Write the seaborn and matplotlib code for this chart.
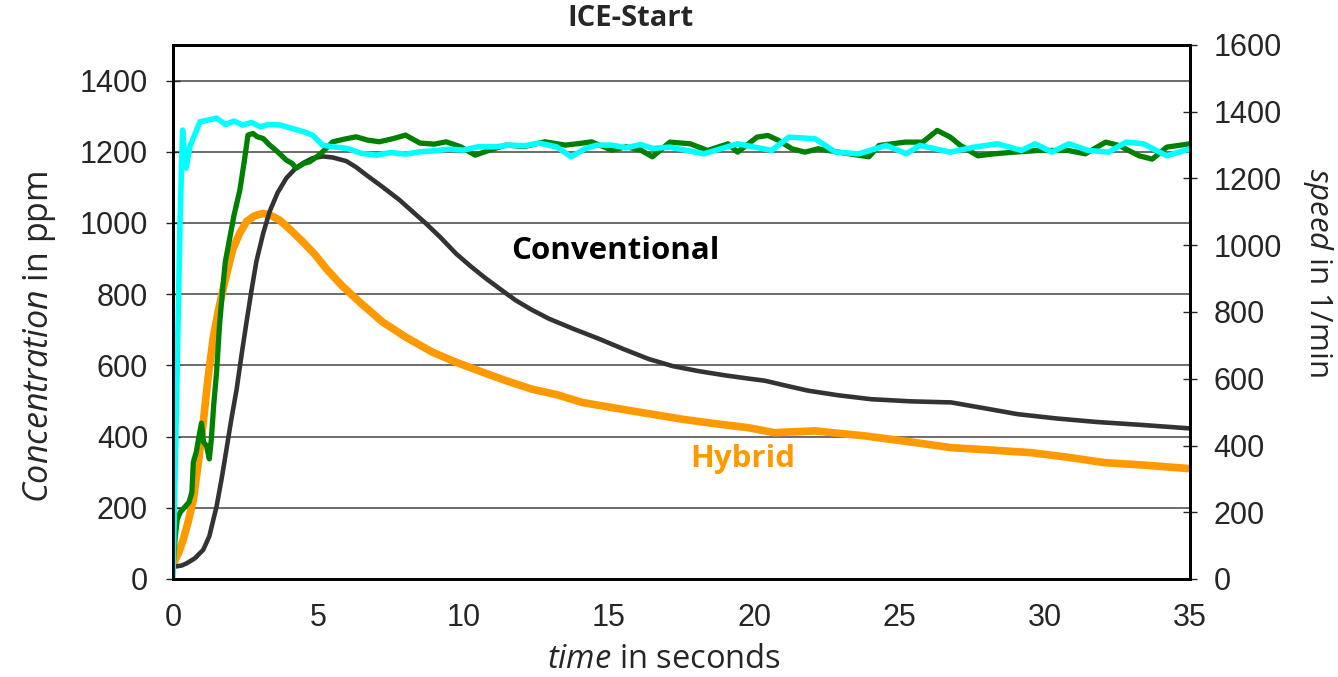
import pandas as pd
import matplotlib
matplotlib.use('Agg')
import matplotlib.pyplot as plt
import seaborn as sns

# Conventional concentration (ppm, left axis)
conv_t = [0.0, 0.3, 0.47, 0.75, 1.04, 1.25, 1.5, 1.67, 1.84, 2.0, 2.19, 2.36, 2.53, 2.7,
          2.87, 3.1, 3.33, 3.6, 3.9, 4.2, 4.47, 4.8, 5.16, 5.5, 5.96, 6.3, 6.65, 7.2, 7.79,
          8.7, 9.2, 9.74, 10.25, 10.77, 11.3, 11.79, 12.35, 12.94, 13.8, 14.65, 15.5, 16.37,
          17.2, 18.08, 19.0, 19.8, 20.37, 21.1, 21.86, 22.9, 24.03, 25.4, 26.78, 27.9, 29.07,
          30.4, 31.8, 33.3, 35.0]
conv_c = [34, 38, 44, 58, 82, 120, 204, 280, 364, 445, 533, 630, 722, 810,
          892, 970, 1033, 1085, 1126, 1152, 1168, 1182, 1187, 1184, 1174, 1157, 1135, 1102, 1065,
          999, 960, 914, 878, 844, 812, 783, 756, 731, 702, 675, 646, 618,
          598, 584, 572, 563, 557, 543, 529, 516, 505, 499, 496, 480, 463,
          451, 441, 433, 423]

# Hybrid concentration (ppm, left axis)
hyb_t = [0.0, 0.2, 0.35, 0.52, 0.7, 0.87, 1.04, 1.2, 1.38, 1.55, 1.73, 1.9, 2.07, 2.3,
         2.53, 2.8, 3.1, 3.4, 3.67, 4.05, 4.47, 4.9, 5.27, 5.8, 6.42, 7.21, 8.0, 8.93, 9.8,
         10.65, 11.5, 12.36, 13.2, 14.08, 15.0, 15.8, 16.7, 17.51, 18.6, 19.8, 20.7, 22.09,
         23.8, 25.3, 26.78, 28.2, 29.52, 30.8, 32.04, 33.4, 35.0]
hyb_c = [40, 75, 110, 160, 223, 325, 439, 560, 675, 750, 816, 875, 929, 972,
         1004, 1020, 1027, 1020, 1008, 980, 947, 910, 872, 825, 778, 722, 680, 637, 607,
         581, 556, 533, 518, 496, 483, 472, 460, 449, 437, 425, 411, 416,
         402, 386, 369, 362, 355, 342, 327, 320, 310]

# speed traces (1/min, right axis)
green_t = [0.0, 0.08, 0.15, 0.25, 0.4, 0.55, 0.65, 0.7, 0.8, 0.9, 0.98, 1.05, 1.15, 1.25,
           1.32, 1.4, 1.5, 1.6, 1.72, 1.8, 1.95, 2.1, 2.3, 2.45, 2.58, 2.75, 2.9, 3.1,
           3.33, 3.6, 3.9, 4.1, 4.24, 4.5, 4.7, 4.95, 5.15, 5.5, 5.9, 6.3, 6.7, 7.1, 7.6,
           8.0, 8.5, 9.0, 9.4, 9.9, 10.4, 10.9, 11.45, 12.1, 12.8, 13.5, 14.0, 14.4, 15.1,
           15.6, 16.1, 16.5, 17.1, 17.8, 18.4, 19.1, 19.43, 20.1, 20.47, 20.8, 21.3, 21.75,
           22.2, 22.9, 23.95, 24.3, 25.2, 25.8, 26.3, 26.75, 27.1, 27.7, 28.26, 28.96,
           29.77, 30.8, 31.4, 32.1, 32.55, 33.25, 33.7, 34.2, 35.0]
green_s = [30, 130, 180, 200, 215, 230, 260, 350, 380, 430, 467, 410, 400, 360,
           420, 520, 620, 760, 880, 950, 1020, 1090, 1165, 1250, 1330, 1335, 1325, 1320,
           1300, 1280, 1255, 1245, 1231, 1245, 1250, 1265, 1280, 1310, 1318, 1325, 1315, 1310, 1320,
           1330, 1306, 1303, 1310, 1295, 1270, 1285, 1300, 1296, 1310, 1300, 1305, 1310, 1285,
           1295, 1285, 1265, 1309, 1304, 1284, 1304, 1279, 1324, 1329, 1316, 1289, 1279,
           1289, 1279, 1265, 1299, 1309, 1309, 1344, 1324, 1299, 1268, 1274, 1279,
           1284, 1284, 1274, 1309, 1299, 1268, 1258, 1294, 1304]

cyan_t = [0.0, 0.13, 0.24, 0.33, 0.38, 0.45, 0.58, 0.93, 1.2, 1.5, 1.8, 2.1, 2.4, 2.7,
          3.0, 3.3, 3.7, 4.1, 4.5, 4.8, 5.15, 5.5, 6.0, 6.5, 7.0, 7.5, 8.0, 8.5, 9.0, 9.5,
          10.0, 10.5, 11.1, 11.6, 12.1, 12.6, 13.2, 13.7, 14.2, 14.6, 15.1, 15.6, 16.1, 16.5,
          17.1, 18.27, 19.43, 20.6, 21.2, 22.1, 22.8, 23.6, 24.55, 25.24, 25.7, 26.75, 27.57,
          28.38, 29.2, 29.67, 30.25, 30.83, 31.5, 32.2, 32.8, 33.4, 34.2, 35.0]
cyan_s = [0, 566, 1066, 1345, 1290, 1231, 1295, 1370, 1375, 1381, 1362, 1372, 1360, 1368,
          1355, 1362, 1360, 1350, 1340, 1330, 1300, 1295, 1290, 1275, 1270, 1278, 1273, 1280, 1283, 1288,
          1285, 1295, 1295, 1300, 1298, 1306, 1295, 1265, 1290, 1300, 1300, 1292, 1302, 1290,
          1294, 1274, 1304, 1284, 1324, 1319, 1279, 1274, 1299, 1274, 1299, 1279, 1294,
          1304, 1284, 1304, 1279, 1304, 1284, 1279, 1309, 1304, 1268, 1289]

conv = pd.DataFrame({'t': conv_t, 'v': conv_c})
hyb = pd.DataFrame({'t': hyb_t, 'v': hyb_c})
green = pd.DataFrame({'t': green_t, 'v': green_s})
cyan = pd.DataFrame({'t': cyan_t, 'v': cyan_s})

sns.set_style('white')
plt.rcParams['font.family'] = ['Liberation Sans', 'DejaVu Sans']
plt.rcParams['mathtext.fontset'] = 'custom'
plt.rcParams['mathtext.rm'] = 'Open Sans'
plt.rcParams['mathtext.it'] = 'Open Sans:italic'

fig = plt.figure(figsize=(13.38, 6.77), dpi=100)
ax = fig.add_axes([173 / 1338, 1 - 579 / 677, (1190 - 173) / 1338, (579 - 45) / 677])
ax2 = ax.twinx()

sns.lineplot(data=hyb, x='t', y='v', ax=ax, color='#FF9900', linewidth=5.5, sort=False)
sns.lineplot(data=conv, x='t', y='v', ax=ax, color='#333333', linewidth=3.3, sort=False)
sns.lineplot(data=green, x='t', y='v', ax=ax2, color='#008000', linewidth=3.8, sort=False)
sns.lineplot(data=cyan, x='t', y='v', ax=ax2, color='#00FFFF', linewidth=4, sort=False)

ax.set_xlim(0, 35)
ax.set_ylim(0, 1500)
ax2.set_ylim(0, 1600)
ax.set_xticks(range(0, 36, 5))
ax.set_yticks(range(0, 1401, 200))
ax2.set_yticks(range(0, 1601, 200))

for a in (ax, ax2):
    a.set_xlabel('')
    a.set_ylabel('')
    for sp in a.spines.values():
        sp.set_color('black')
        sp.set_linewidth(2)
ax.yaxis.grid(True, color='#606060', linewidth=1.3)
ax.set_axisbelow(True)

ax.tick_params(axis='y', direction='inout', length=10, width=1, labelsize=22, pad=13)
ax.tick_params(axis='x', direction='out', length=9, width=1, labelsize=22, pad=8)
ax2.tick_params(axis='y', direction='inout', length=10, width=1, labelsize=22, pad=12)

fig.text(630 / 1338, 1 - 18 / 677, 'ICE-Start', ha='center', va='center', fontsize=21,
         fontweight='bold', family='Open Sans')
fig.text(664 / 1338, 1 - 659 / 677, r'$\mathit{time}$ in seconds', ha='center', va='center',
         fontsize=23.5, family='Open Sans')
fig.text(40 / 1338, 1 - 337 / 677, r'$\mathit{Concentration}$ in ppm', ha='center', va='center',
         rotation=90, fontsize=24.5, family='Open Sans')
fig.text(1318 / 1338, 1 - 272 / 677, r'$\mathit{speed}$ in 1/min', ha='center', va='center',
         rotation=270, fontsize=22.5, family='Open Sans')

ax.text(11.65, 920, 'Conventional', ha='left', va='center', fontsize=22.5, fontweight='bold',
        family='Open Sans', color='black')
ax.text(17.8, 336, 'Hybrid', ha='left', va='center', fontsize=22.5, fontweight='bold',
        family='Open Sans', color='#FF9900')

fig.savefig('out.png', dpi=100)
